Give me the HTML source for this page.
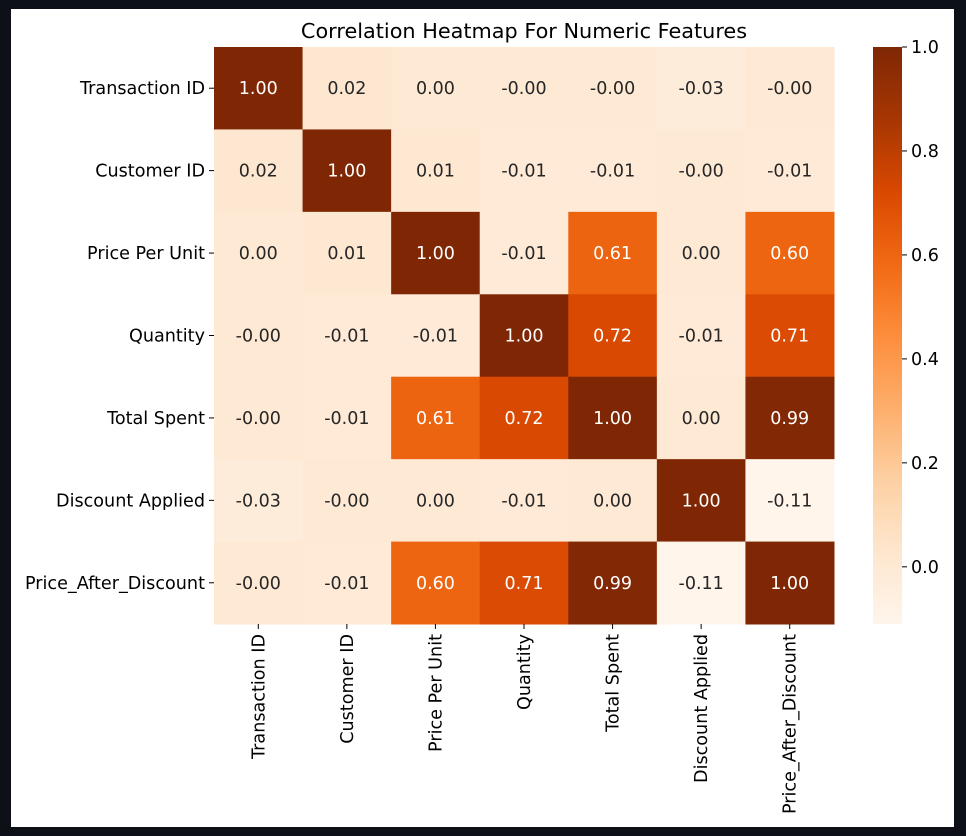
<!DOCTYPE html>
<html><head><meta charset="utf-8">
<style>
html,body{margin:0;padding:0;background:#0d1117;}
body{width:966px;height:836px;overflow:hidden;position:relative;}
#panel{position:absolute;left:11px;top:9px;width:943px;height:818px;background:#fff;}
svg{position:absolute;left:0;top:0;}
text{font-family:"DejaVu Sans","Liberation Sans",sans-serif;}
</style></head>
<body>
<div id="panel"></div>
<svg id="chart" width="966" height="836"></svg>
<script>
const labels = ["Transaction ID","Customer ID","Price Per Unit","Quantity","Total Spent","Discount Applied","Price_After_Discount"];
const row0 = [1.00,0.02,0.00,-0.00,-0.00,-0.03,-0.00];
const row1 = [0.02,1.00,0.01,-0.01,-0.01,-0.00,-0.01];
const row2 = [0.00,0.01,1.00,-0.01,0.61,0.00,0.60];
const row3 = [-0.00,-0.01,-0.01,1.00,0.72,-0.01,0.71];
const row4 = [-0.00,-0.01,0.61,0.72,1.00,0.00,0.99];
const row5 = [-0.03,-0.00,0.00,-0.01,0.00,1.00,-0.11];
const row6 = [-0.00,-0.01,0.60,0.71,0.99,-0.11,1.00];
const matrix = [row0,row1,row2,row3,row4,row5,row6];
const cbTicks = [0.0,0.2,0.4,0.6,0.8,1.0];
const vmin = -0.11, vmax = 1.0;

const NS="http://www.w3.org/2000/svg";
const svg=document.getElementById('chart');
const L=214,T=47,R=834,B=624;
const cw=(R-L)/labels.length, ch=(B-T)/labels.length;
const xPos=i=>L+i*cw, yPos=i=>T+i*ch;
const CBX=873,CBW=29,CBT=47,CBB=624;
const cbY=v=>CBB-(v-vmin)/(vmax-vmin)*(CBB-CBT);
const stops=[[255,245,235],[254,230,206],[253,208,162],[253,174,107],[253,141,60],[241,105,19],[217,72,1],[166,54,3],[127,39,4]];
function cmap(v){let t=Math.max(0,Math.min(1,(v-vmin)/(vmax-vmin)))*(stops.length-1);let i=Math.min(Math.floor(t),stops.length-2),f=t-i;
 return stops[i].map((a,k)=>Math.round(a+(stops[i+1][k]-a)*f));}
function mk(tag,attrs){const e=document.createElementNS(NS,tag);for(const k in attrs)e.setAttribute(k,attrs[k]);svg.appendChild(e);return e;}

const title=mk('text',{x:(L+R)/2+0,y:38,'text-anchor':'middle','font-size':20.8,fill:'#000'});
title.textContent="Correlation Heatmap For Numeric Features";



matrix.forEach((row,r)=>row.forEach((v,c)=>{
 const col=cmap(v);
 const rect=mk('rect',{x:xPos(c),y:yPos(r),width:cw+0.5,height:ch+0.5,fill:`rgb(${col})`});
 
 
 const t=mk('text',{x:xPos(c)+cw/2,y:yPos(r)+ch/2+6,'text-anchor':'middle','font-size':17.5,fill:v>0.45?'#fff':'#262626'});
 t.textContent=(Object.is(v,-0)||v<0)?'-'+Math.abs(v).toFixed(2):v.toFixed(2);
 
 
}));

labels.forEach((lab,i)=>{
 const y=yPos(i)+ch/2;
 mk('line',{x1:L-5,x2:L,y1:y,y2:y,stroke:'#000','stroke-width':1});
 const t=mk('text',{x:L-9,y:y+6,'text-anchor':'end','font-size':17.6,fill:'#000'});
 t.textContent=lab;
 
 
 const x=xPos(i)+cw/2;
 mk('line',{x1:x,x2:x,y1:B,y2:B+5,stroke:'#000','stroke-width':1});
 const tx=mk('text',{x:0,y:0,'text-anchor':'end','font-size':17.6,fill:'#000',transform:`translate(${x+6},${B+10}) rotate(-90)`});
 tx.textContent=lab;
 
 
});

const defs=mk('defs',{});
const grad=document.createElementNS(NS,'linearGradient');
grad.setAttribute('id','cbg');grad.setAttribute('x1','0');grad.setAttribute('y1','1');grad.setAttribute('x2','0');grad.setAttribute('y2','0');
defs.appendChild(grad);
stops.forEach((s,i)=>{const st=document.createElementNS(NS,'stop');st.setAttribute('offset',i/(stops.length-1));st.setAttribute('stop-color',`rgb(${s})`);grad.appendChild(st);});
const cb=mk('rect',{x:CBX,y:CBT,width:CBW,height:CBB-CBT,fill:'url(#cbg)'});


cbTicks.forEach(v=>{
 const y=cbY(v);
 mk('line',{x1:CBX+CBW,x2:CBX+CBW+5,y1:y,y2:y,stroke:'#000','stroke-width':1});
 const t=mk('text',{x:CBX+CBW+9,y:y+6,'font-size':17.5,fill:'#000'});
 t.textContent=v.toFixed(1);
 
 
});
</script>
</body></html>
